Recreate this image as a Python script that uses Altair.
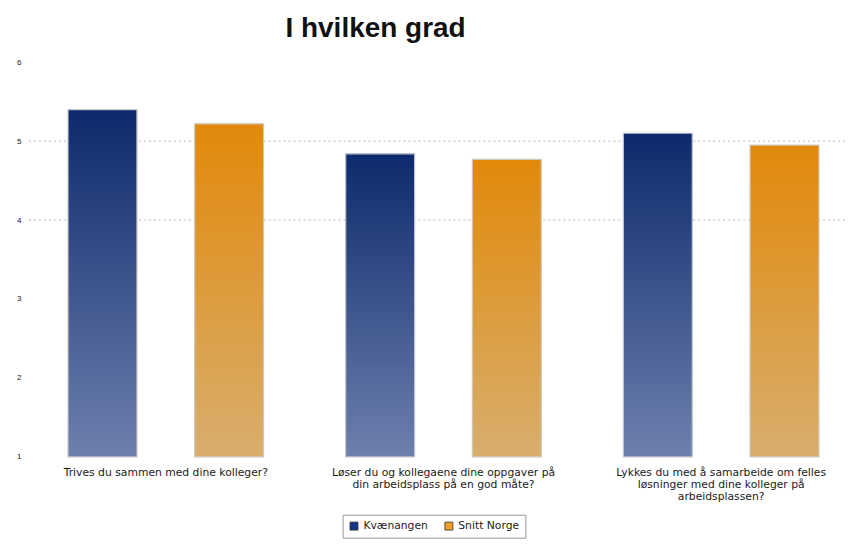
import altair as alt
import pandas as pd

categories = [
    "Trives du sammen med dine kolleger?",
    "Løser du og kollegaene dine oppgaver på|din arbeidsplass på en god måte?",
    "Lykkes du med å samarbeide om felles|løsninger med dine kolleger på|arbeidsplassen?",
]
series = ["Kvænangen", "Snitt Norge"]
values_local = [5.40, 4.84, 5.10]
values_norge = [5.22, 4.77, 4.95]
grid_values = [4, 5]
y_ticks = [1, 2, 3, 4, 5, 6]

rows = []
for c, a, b in zip(categories, values_local, values_norge):
    rows.append({"kategori": c, "serie": series[0], "verdi": a})
    rows.append({"kategori": c, "serie": series[1], "verdi": b})
df = pd.DataFrame(rows)
grid_df = pd.DataFrame({"g": grid_values})

blue_grad = alt.Gradient(
    gradient="linear", x1=0, x2=0, y1=0, y2=1,
    stops=[alt.GradientStop(color="#0c2a6c", offset=0),
           alt.GradientStop(color="#6e80ad", offset=1)],
)
orange_grad = alt.Gradient(
    gradient="linear", x1=0, x2=0, y1=0, y2=1,
    stops=[alt.GradientStop(color="#e2890a", offset=0),
           alt.GradientStop(color="#d8ae6e", offset=1)],
)

yscale = alt.Scale(domain=[1, 6], zero=False, nice=False)
x_enc = alt.X(
    "kategori:N", sort=categories, title=None,
    scale=alt.Scale(paddingInner=0, paddingOuter=0),
    axis=alt.Axis(
        labelAngle=0, labelExpr="split(datum.label, '|')", labelLimit=400,
        labelFontSize=10.8, labelColor="#1a1a1a", domain=False, ticks=False,
        labelPadding=10, labelLineHeight=12, labelBaseline="top",
        labelFont="DejaVu Sans",
    ),
)
xoff_enc = alt.XOffset(
    "serie:N", sort=series,
    scale=alt.Scale(domain=series, paddingInner=0.456, paddingOuter=0.324),
)
y_enc = alt.Y(
    "verdi:Q", scale=yscale, title=None,
    axis=alt.Axis(values=y_ticks, format="d", grid=False, domain=False,
                  ticks=False, labelFontSize=8, labelColor="#222",
                  labelPadding=6, labelFont="Liberation Sans"),
)

grid = alt.Chart(grid_df).mark_rule(
    color="#b8b8b8", strokeDash=[2, 3], strokeWidth=1
).encode(y=alt.Y("g:Q", scale=yscale))

base_bars = alt.Chart(df).mark_bar().encode(
    x=x_enc, xOffset=xoff_enc, y=y_enc, y2=alt.datum(1),
    color=alt.Color(
        "serie:N", sort=series,
        scale=alt.Scale(domain=series, range=["#15348a", "#f0a028"]),
        legend=alt.Legend(
            title=None, orient="none", legendX=316, legendY=453,
            direction="horizontal",
            symbolType="square", symbolSize=64, labelFontSize=10.8,
            labelColor="#222", strokeColor="#9a9a9a", padding=6,
            columnPadding=14, labelFont="DejaVu Sans",
            symbolStrokeColor="#333", symbolStrokeWidth=0.8,
        ),
    ),
)

blue_bars = alt.Chart(df).transform_filter(
    alt.datum.serie == series[0]
).mark_bar(color=blue_grad, stroke="#c4c4cc", strokeWidth=1.2).encode(
    x=x_enc, xOffset=xoff_enc, y=y_enc, y2=alt.datum(1)
)
orange_bars = alt.Chart(df).transform_filter(
    alt.datum.serie == series[1]
).mark_bar(color=orange_grad, stroke="#cfc8bc", strokeWidth=1.2).encode(
    x=x_enc, xOffset=xoff_enc, y=y_enc, y2=alt.datum(1)
)

chart = alt.layer(grid, base_bars, blue_bars, orange_bars).properties(
    width=834, height=395,
    padding={"left": 8, "top": 7, "right": -16, "bottom": 0},
    title=alt.TitleParams(
        "I hvilken grad", fontSize=28, fontWeight="bold",
        font="Liberation Sans", color="#111", anchor="middle",
        dx=-68, offset=15,
    ),
).configure_view(stroke=None)

chart.save("out.html", embed_options={"renderer": "svg", "actions": False})
